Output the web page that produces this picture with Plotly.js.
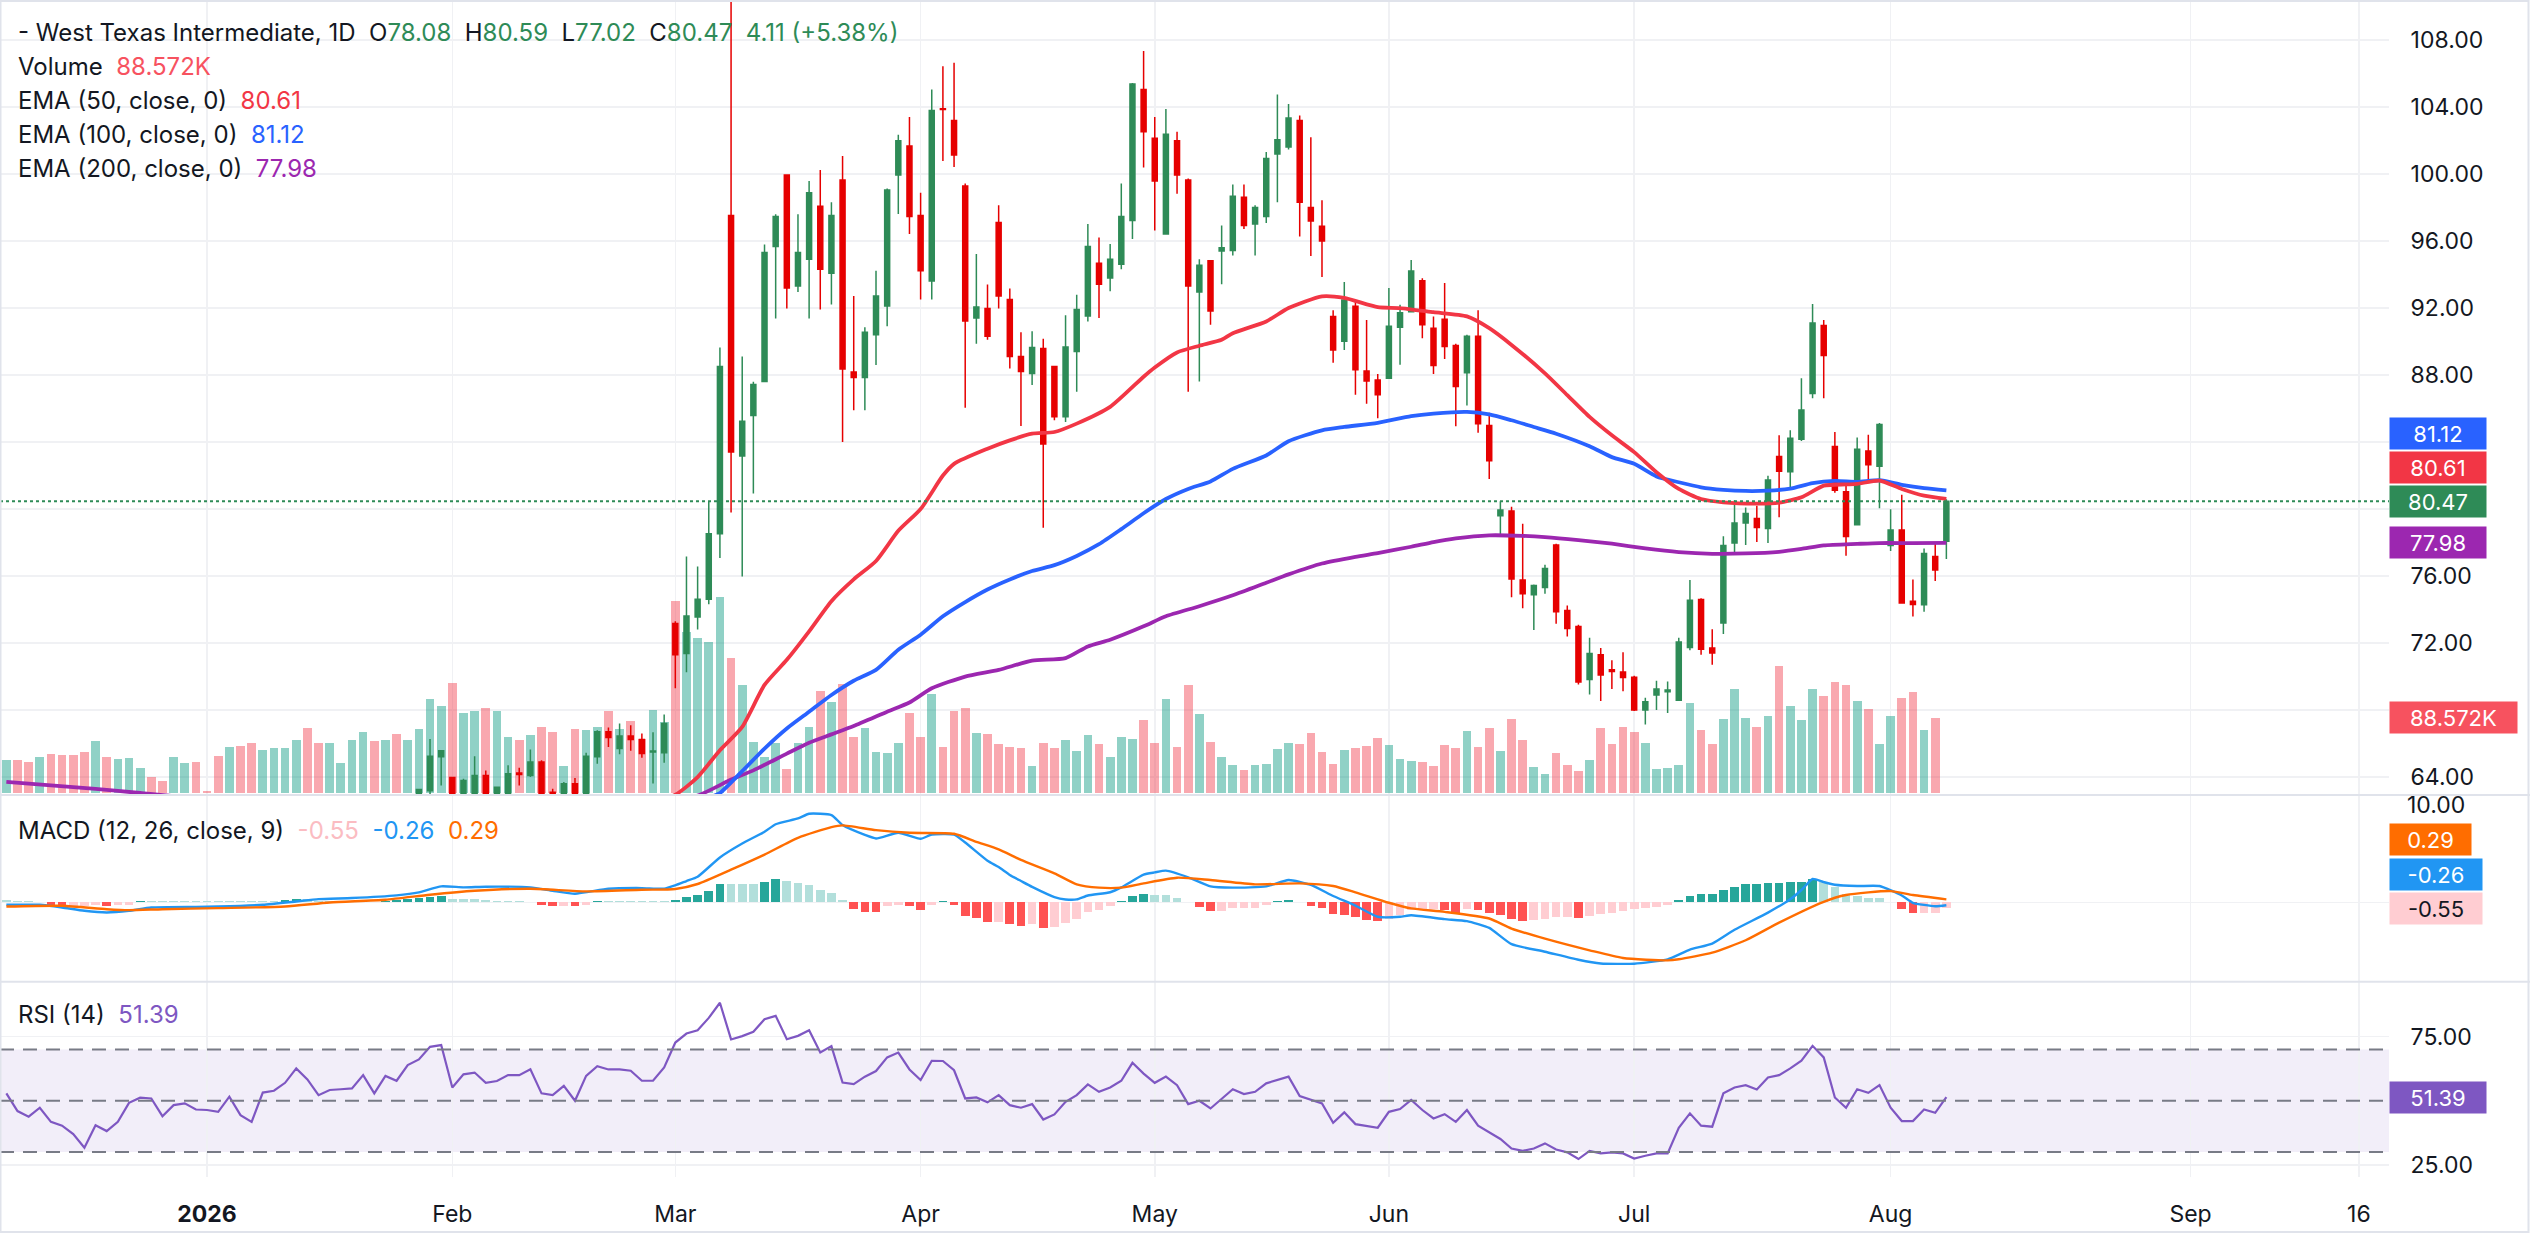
<!DOCTYPE html>
<html>
<head>
<meta charset="utf-8">
<script src="https://cdn.plot.ly/plotly-3.0.1.min.js"></script>
<style>html,body{margin:0;padding:0;background:#fff;}#chart{width:2530px;height:1253px;}</style>
</head>
<body>
<div id="chart"></div>
<script>
// ---------------- DATA (bar index 0 = first trading day of 2026) ----------------
const firstVolBar = -18;
const volume = [39.0,39.0,36.3,42.5,46.1,44.9,44.9,48.4,61.3,42.5,40.2,41.4,29.7,19.1,14.4,42.5,35.5,36.7,
  2.7,43.7,54.3,55.4,58.9,50.7,53.1,53.1,62.4,76.5,58.9,58.9,35.5,62.4,71.8,61.3,62.4,69.5,62.4,
  75.3,110.4,102.3,129.2,94.1,96.4,99.9,96.4,66.0,62.4,68.3,77.7,71.8,32.0,75.3,74.2,77.7,96.4,75.3,84.7,64,97.5,84,
  225,188.5,182,177,230,158,127,60,42.5,59.0,28.9,59.0,77.9,120,107,128,66.1,76.7,48.4,47.2,59.0,93.8,66.1,116,54.3,96.8,100,70.8,69,57.2,54.3,52.5,32.5,59,52.5,62,49.6,67.9,57.2,42.5,66.1,63.1,85.6,59,110,54.3,127,92.6,60.2,42.5,33.6,27.7,33.6,34.8,51.3,59,57.3,70.6,
  48.1,34.1,51.1,53.2,55.4,65.2,56.6,40.5,38.3,37.1,31.9,57.1,53.2,73.3,54.5,76.7,49.8,87.3,61.8,31.1,23.0,47.7,33.6,26.4,39.2,76.7,57.9,77.9,72.0,58.8,29.0,29.8,33.6,105.6,74.5,57.9,87.3,122.2,88.6,77.9,89.9,149.1,102.6,86.0,122.2,113.7,130.7,126.5,108.2,98.8,57.9,90.7,112.0,118.0,74.5,88.572];
// direction (1 up / -1 down) of bars whose candles sit below the visible price range (bars -18..18)
const earlyVolDir = [1,-1,-1,1,-1,-1,-1,-1,1,-1,1,1,1,-1,-1,1,1,-1,
  -1,-1,1,-1,-1,1,1,1,1,-1,-1,1,1,1,1,-1,1,-1,1];

const firstCandle = 19;
const open  = [63.03,63.18,65.21,63.98,62.9,63.0,64.1,62.9,62.9,64.25,64.1,64.9,63.1,62.9,63.6,62.9,65.21,66.7,65.71,66.45,66.25,65.5,65.45,
  73.17,71.37,73.56,74.62,78.53,97.53,83.16,85.59,87.61,95.67,99.94,93.32,94.92,98.08,94.08,99.64,88.18,87.85,90.4,92.12,99.94,101.68,97.53,93.62,103.9,103.19,99.28,91.40,91.97,
  97.11,92.51,89.11,88.09,89.59,88.51,85.51,89.41,91.52,94.68,93.8,94.62,97.23,105.05,102.14,96.42,101.98,99.64,92.96,94.83,95.4,95.43,98.62,97.02,97.47,101.2,101.62,103.19,98.0,
  96.88,91.5,90.02,92.1,88.24,87.7,87.81,90.85,91.78,93.63,90.8,91.33,89.76,88.13,90.31,84.99,79.6,79.88,75.76,74.89,75.32,77.86,73.95,72.99,69.83,71.3,70.4,70.28,69.96,68.0,68.9,69.1,68.59,71.74,74.6,71.7,
  73.2,77.97,79.17,79.43,78.84,83.14,82.23,84.16,86.9,90.96,83.73,81.03,79.06,83.47,82.55,77.82,78.75,74.5,74.28,77.17,78.08];
const high  = [63.3,66.27,65.6,64.0,63.9,65.25,64.4,63.4,64.7,64.56,65.65,65.0,63.3,63.7,63.95,65.45,66.8,66.96,67.2,67.1,66.6,66.67,67.74,
  73.3,77.17,76.57,80.48,89.65,111.5,89.11,87.6,95.8,97.6,99.94,97.6,99.58,100.24,98.32,101.08,92.72,90.86,94.22,99.13,102.35,103.4,98.89,105.05,106.44,106.65,99.43,95.22,93.41,
  98.14,93.17,90.56,90.62,90.16,88.51,91.57,92.8,97.02,96.21,95.82,99.43,105.44,107.34,103.4,103.88,102.53,99.73,94.92,94.83,96.93,99.37,99.37,98.14,101.32,104.75,104.18,103.49,102.2,
  98.44,91.87,93.56,92.48,91.28,88.07,93.19,92.2,94.87,93.78,91.5,93.5,89.87,90.41,91.87,85.75,80.47,80.14,79.12,75.5,76.67,77.93,74.24,73.09,72.32,71.7,70.98,71.45,70.05,68.74,69.75,69.7,72.32,75.76,74.67,72.82,
  78.37,80.53,80.1,80.2,81.99,84.4,84.7,87.81,92.24,91.28,84.6,81.56,84.27,84.44,85.14,79.99,80.86,75.8,77.65,77.93,80.59];
const low   = [62.5,62.6,63.5,62.4,62.5,62.7,62.6,62.5,62.6,63.5,64.0,62.5,62.5,62.6,62.6,62.7,64.8,65.8,65.37,65.57,65.15,63.62,64.86,
  69.3,70.26,72.81,74.32,77.08,79.79,75.97,80.93,87.6,91.37,91.97,92.96,91.37,91.91,92.21,84.0,85.9,85.9,88.6,90.92,97.62,96.42,92.51,92.51,100.78,100.42,86.05,89.87,90.1,
  91.97,88.39,84.96,87.4,78.89,85.3,85.2,87.0,91.2,91.4,93.0,94.32,96.12,100.39,96.63,96.42,98.83,87.0,87.61,91.0,93.42,95.13,96.72,95.13,97.08,98.32,101.47,96.27,95.1,
  93.86,88.74,89.5,86.83,86.29,85.42,87.81,88.61,91.78,90.2,88.07,88.96,84.94,86.18,84.55,81.79,78.51,74.74,74.08,72.78,74.95,73.15,72.39,69.52,68.93,68.54,69.26,69.13,67.94,67.14,68.0,67.83,68.59,71.57,71.3,70.7,
  72.54,77.43,77.86,78.04,77.97,79.51,81.19,84.07,86.61,86.61,80.97,77.21,79.06,81.77,80.05,77.49,74.35,73.58,73.87,75.71,77.02];
const close = [63.26,65.25,65.57,62.7,63.8,64.1,62.9,63.4,64.2,64.15,64.9,62.9,62.9,63.6,62.9,65.25,66.7,66.37,66.45,66.25,65.41,65.55,67.2,
  71.31,73.62,74.62,78.53,88.51,83.40,85.24,87.43,95.31,97.47,93.20,95.31,98.89,94.32,97.53,88.36,87.85,90.56,92.72,99.04,101.98,97.47,94.22,103.79,103.85,101.14,91.22,92.06,90.32,
  92.72,89.11,88.21,89.65,83.88,85.51,89.68,91.91,95.67,93.42,94.92,97.47,105.38,102.53,99.58,102.38,99.94,93.32,94.56,91.82,95.6,98.68,96.93,98.0,100.93,102.05,103.34,98.32,97.2,
  96.0,89.5,92.48,88.31,87.64,86.83,90.91,91.72,94.21,91.0,88.57,89.7,87.31,90.31,85.09,82.88,79.94,75.82,74.95,75.43,76.45,73.87,72.87,69.67,71.37,70.1,70.3,69.94,68.0,68.5,69.26,69.2,72.07,74.56,71.63,71.41,
  77.82,79.17,79.74,78.9,81.73,82.25,84.23,85.92,91.11,89.16,81.12,78.36,83.57,82.64,85.05,78.75,74.39,74.3,77.34,76.36,80.47];

const ema50X = [30,38,42,44,46,48,50,52,54,56,58,60,62,64,66,67,70,72,74,76,78,81,84,85,87,89,91,92,95,97,100,102,105,107,110,113,115,117,120,122,124,126,128,130,132,134,136,139,141,143,145,147,148,150,152,154,156];
const ema50Y = [61.4,62.2,62.95,64.0,65.6,67.0,69.5,71.0,72.7,74.5,75.8,76.9,78.7,80.0,82.0,82.7,83.6,84.1,84.5,84.6,85.1,86.1,87.9,88.45,89.35,89.75,90.1,90.5,91.2,92.0,92.7,92.6,92.05,92.0,91.75,91.5,90.8,89.8,88.1,86.8,85.5,84.4,83.4,82.2,81.2,80.6,80.4,80.32,80.38,80.7,81.4,81.47,81.5,81.7,81.2,80.8,80.61];
const ema100X = [35,45,46,48,50,52,54,56,58,60,62,64,66,68,70,72,74,76,78,80,82,84,86,88,90,92,95,97,100,102,105,108,110,113,115,117,119,121,124,126,128,130,132,134,136,138,140,142,144,146,148,150,152,154,156];
const ema100Y = [61.6,62.8,63.05,64.35,65.7,66.9,67.9,68.9,69.75,70.4,71.6,72.5,73.6,74.45,75.2,75.8,76.3,76.65,77.2,77.9,78.8,79.75,80.6,81.2,81.65,82.4,83.2,84.05,84.7,84.9,85.15,85.55,85.7,85.8,85.65,85.3,84.9,84.5,83.75,83.1,82.7,81.95,81.6,81.3,81.15,81.08,81.1,81.22,81.55,81.68,81.62,81.72,81.45,81.25,81.12];
const ema200X = [-18,-14,-10,-6,-2,10,25,38,44,47,49,52,54,56,58,61,63,65,68,71,74,77,79,81,84,86,89,92,95,97,100,103,105,108,110,112,115,118,120,123,126,129,132,135,138,141,143,145,148,150,153,156];
const ema200Y = [63.72,63.5,63.3,63.05,62.8,62.3,62.0,62.3,62.9,63.85,64.4,65.4,66.05,66.55,67.05,67.9,68.45,69.3,70.0,70.4,70.95,71.1,71.8,72.2,73.0,73.6,74.2,74.85,75.6,76.1,76.75,77.15,77.37,77.75,78.03,78.25,78.43,78.4,78.33,78.15,77.93,77.65,77.43,77.33,77.35,77.45,77.62,77.83,77.92,77.97,77.97,77.98];

const macdX = [-18,-15,-13,-11,-9,-7,-5,-1,1,5,8,10,13,17,19,21,23,25,29,31,33,36,39,41,42,43,44,46,48,50,51,53,54,56,57,59,60,62,64,65,67,68,70,71,72,73,74,76,77,78,79,81,82,84,85,86,88,90,92,95,97,99,101,103,105,107,108,111,113,115,117,120,123,125,128,131,133,135,137,140,142,143,144,145,146,148,150,152,153,155,156];
const macdY = [-0.22,-0.22,-0.47,-0.78,-0.94,-0.78,-0.47,-0.41,-0.38,-0.22,0.09,0.31,0.41,0.66,0.94,1.5,1.41,1.47,1.41,1.09,0.81,1.28,1.34,1.28,1.6,2.0,2.4,4.2,5.5,6.6,7.3,7.84,8.28,8.16,7.22,6.3,5.97,6.5,5.94,6.34,6.34,5.6,3.9,3.3,2.56,2.0,1.45,0.5,0.28,0.28,0.65,0.95,1.4,2.6,2.8,2.97,2.35,1.5,1.38,1.5,2.09,1.63,0.6,-0.3,-1.34,-1.34,-1.19,-1.56,-1.75,-2.38,-3.9,-4.6,-5.35,-5.7,-5.72,-5.31,-4.4,-3.84,-2.55,-0.95,0.3,1.16,2.19,1.9,1.65,1.53,1.53,0.65,-0.03,-0.35,-0.26];
const signalX = [-18,-13,-9,-7,-4,1,7,11,16,20,24,29,34,39,42,44,47,50,53,56,57,60,63,67,69,71,73,76,78,80,82,84,87,90,94,98,101,103,106,108,111,115,117,120,124,127,131,132,135,138,141,145,147,151,153,156];
const signalY = [-0.38,-0.31,-0.63,-0.72,-0.63,-0.53,-0.38,0.0,0.25,0.72,1.09,1.28,1.03,1.19,1.25,1.72,3.06,4.47,6.03,7.03,7.19,6.75,6.5,6.41,5.66,4.95,3.97,2.72,1.69,1.38,1.38,1.78,2.31,2.09,1.69,1.78,1.53,0.94,-0.03,-0.56,-0.88,-1.5,-2.44,-3.38,-4.47,-5.19,-5.41,-5.31,-4.69,-3.53,-1.88,0.06,0.69,1.06,0.69,0.29];
const macdHist = [0.2,0.1,0.1,0.05,-0.25,-0.3,-0.3,-0.3,-0.25,-0.35,-0.25,-0.2,0.1,0.1,0.1,0.1,0.1,0.1,0.1,0.1,0.1,0.1,0.1,0.1,0.1,0.2,0.3,0.3,0.15,0.1,0.05,0.1,0.2,0.05,0.15,0.2,0.3,0.4,0.5,0.6,0.35,0.3,0.3,0.2,0.15,0.1,0.1,
  0.05,-0.25,-0.3,-0.3,-0.35,-0.25,0.1,0.1,0.1,0.1,0.1,0.1,0.1,0.2,0.5,0.7,1.1,1.7,1.7,1.7,1.7,1.9,2.2,2.0,1.8,1.6,1.2,0.9,0.2,-0.6,-0.85,-0.9,-0.3,-0.2,-0.3,-0.7,-0.25,0.1,-0.2,-1.3,-1.45,-1.8,
  -1.8,-2.0,-2.2,-2.05,-2.4,-2.3,-1.9,-1.5,-0.9,-0.7,-0.35,0.15,0.6,0.75,0.7,0.7,0.45,0.05,-0.4,-0.8,-0.8,-0.55,-0.5,-0.5,-0.25,0.1,0.25,0.05,-0.3,-0.55,
  -1.1,-1.2,-1.4,-1.65,-1.7,-1.5,-1.2,-0.7,-0.7,-0.6,-0.7,-0.95,-0.6,-0.7,-1.0,-1.2,-1.55,-1.75,-1.65,-1.5,-1.4,-1.4,-1.45,-1.25,-1.1,-0.95,-0.8,-0.65,-0.5,-0.4,
  -0.2,0.2,0.6,0.75,0.78,1.15,1.45,1.7,1.72,1.78,1.85,1.88,1.9,2.2,1.95,1.45,0.78,0.6,0.38,0.38,0.06,-0.6,-0.95,-0.95,-0.95,-0.55];
const rsi = [52.9,46.0,43.8,47.3,41.8,40.3,37.0,31.7,40.5,38.2,41.8,49.2,51.2,50.9,44.0,48.3,49.0,46.6,
  46.4,45.7,51.6,44.4,41.8,53.2,53.9,57.0,62.6,58.3,52.2,54.2,54.5,54.8,60.0,52.9,59.7,57.8,63.9,
  66.1,71.0,71.7,55.2,60.3,61.0,57.0,57.7,60.0,60.0,62.3,52.9,52.2,55.8,50.0,59.7,63.5,62.2,62.2,61.7,57.8,57.8,63.0,
  72.7,76.2,77.5,82.3,88.2,73.9,75.2,76.9,81.8,83.1,74.0,75.3,77.5,68.8,71.3,57.1,56.5,59.4,61.6,66.9,68.8,62.2,58.1,65.6,65.5,61.9,50.9,51.3,49.4,52.2,
  48.3,47.3,48.7,42.7,44.7,49.6,52.2,56.4,53.5,55.2,57.8,64.8,60.6,57.0,59.4,56.1,48.7,50.0,47.0,50.6,54.5,52.6,53.5,56.8,58.1,59.4,51.8,50.5,49.0,41.4,
  45.5,40.9,40.3,39.5,45.7,46.8,50.3,46.4,43.1,44.8,41.8,46.4,40.3,37.7,35.1,31.4,30.5,31.4,33.4,31.0,29.9,27.3,30.5,29.5,29.9,29.5,27.5,28.6,29.5,29.5,
  39.5,45.1,40.3,39.9,52.9,55.2,56.1,54.4,59.1,60.0,62.6,65.6,71.4,66.9,51.3,47.3,54.5,53.1,56.1,47.3,42.1,42.1,46.6,45.3,51.39];

const monthTickPos  = [0, 22, 42, 64, 85, 106, 128, 151, 177.9, 193];
const monthTickText = ['<b>2026</b>', 'Feb', 'Mar', 'Apr', 'May', 'Jun', 'Jul', 'Aug', 'Sep', '16'];
const priceTicks = [64, 68, 72, 76, 80, 84, 88, 92, 96, 100, 104, 108];
const priceTicksUnderTags = [68, 80, 84];   // labels hidden behind the value tags in the reference
const macdTopTick = 10;

// ---------------- LAYOUT GEOMETRY ----------------
const W = 2530, H = 1253, ML = 0, MR = 141, MT = 2, MB = 76;
const PW = W - ML - MR, PH = H - MT - MB;
const px = v => (v - ML) / PW;
const py = v => (H - MB - v) / PH;
const mainBottom = 795, macdBottom = 981.7;

const GREEN = '#2e8b57', RED = '#e60000';
const FONT = 'Inter, Roboto, "Noto Sans", sans-serif';
const TXT = '#131722';

const volX = volume.map((_, k) => firstVolBar + k);
const cX = close.map((_, k) => firstCandle + k);
const allX = rsi.map((_, k) => firstVolBar + k);

const volColors = volume.map((v, k) => {
  const i = firstVolBar + k;
  let up;
  if (i < firstCandle) up = earlyVolDir[k] > 0;
  else { const j = i - firstCandle; up = close[j] >= open[j]; }
  return up ? 'rgba(8,153,129,0.45)' : 'rgba(242,54,69,0.43)';
});
const histColors = macdHist.map((h, k) => {
  const p = k > 0 ? macdHist[k - 1] : h;
  if (h >= 0) return h > p ? '#26a69a' : '#b2dfdb';
  return h < p ? '#ff5252' : '#ffcdd2';
});

const traces = [
  {type: 'bar', x: volX, y: volume, xaxis: 'x', yaxis: 'y', marker: {color: volColors, line: {width: 0}}, width: 0.78},
  {type: 'candlestick', x: cX, open: open, high: high, low: low, close: close, xaxis: 'x', yaxis: 'y2',
   increasing: {line: {color: GREEN, width: 1.5}, fillcolor: GREEN},
   decreasing: {line: {color: RED, width: 1.5}, fillcolor: RED}, whiskerwidth: 0},
  {type: 'scatter', mode: 'lines', x: ema200X, y: ema200Y, xaxis: 'x', yaxis: 'y2', line: {color: '#9c27b0', width: 3.8, shape: 'spline', smoothing: 0.6}},
  {type: 'scatter', mode: 'lines', x: ema100X, y: ema100Y, xaxis: 'x', yaxis: 'y2', line: {color: '#2962ff', width: 3.8, shape: 'spline', smoothing: 0.6}},
  {type: 'scatter', mode: 'lines', x: ema50X, y: ema50Y, xaxis: 'x', yaxis: 'y2', line: {color: '#f23645', width: 3.8, shape: 'spline', smoothing: 0.6}},
  {type: 'bar', x: allX, y: macdHist, xaxis: 'x', yaxis: 'y3', marker: {color: histColors, line: {width: 0}}, width: 0.78},
  {type: 'scatter', mode: 'lines', x: macdX, y: macdY, xaxis: 'x', yaxis: 'y3', line: {color: '#2196f3', width: 2.4, shape: 'spline', smoothing: 0.5}},
  {type: 'scatter', mode: 'lines', x: signalX, y: signalY, xaxis: 'x', yaxis: 'y3', line: {color: '#ff6d00', width: 2.4, shape: 'spline', smoothing: 0.6}},
  {type: 'scatter', mode: 'lines', x: allX, y: rsi, xaxis: 'x', yaxis: 'y4', line: {color: '#7e57c2', width: 2.2}}
];

const last = close.length - 1;
const lastO = open[last], lastH = high[last], lastL = low[last], lastC = close[last];
const chg = lastC - close[last - 1];
const pct = chg / close[last - 1] * 100;
const nb = '\u00a0';
const g = s => `<span style="color:${GREEN}">${s}</span>`;
const headerText = `-${nb}West Texas Intermediate, 1D${nb}${nb}O${g(lastO.toFixed(2))}${nb}${nb}H${g(lastH.toFixed(2))}${nb}${nb}L${g(lastL.toFixed(2))}${nb}${nb}C${g(lastC.toFixed(2))}${nb}${nb}${g((chg >= 0 ? '' : '-') + Math.abs(chg).toFixed(2) + ' (' + (pct >= 0 ? '+' : '') + pct.toFixed(2) + '%)')}`;
const volLast = volume[volume.length - 1];
const e50 = ema50Y[ema50Y.length - 1], e100 = ema100Y[ema100Y.length - 1], e200 = ema200Y[ema200Y.length - 1];
const mLast = macdY[macdY.length - 1], sLast = signalY[signalY.length - 1], hLast = macdHist[macdHist.length - 1];
const rLast = rsi[rsi.length - 1];

function legend(text, ypx) {
  return {xref: 'paper', yref: 'paper', x: px(16), y: py(ypx), xanchor: 'left', yanchor: 'middle', text: text,
    showarrow: false, font: {family: FONT, size: 24, color: TXT}, align: 'left'};
}
function tag(text, ypx, bg, w, fg, yref, yval) {
  return {xref: 'paper', yref: yref || 'paper', x: px(2389), y: yref ? yval : py(ypx), xanchor: 'left', yanchor: 'middle',
    text: text, showarrow: false, bgcolor: bg, width: w, height: 29, borderpad: 1, align: 'center',
    font: {family: FONT, size: 22, color: fg || '#ffffff'}};
}
const annotations = [
  legend(headerText, 33),
  legend(`Volume${nb}${nb}<span style="color:#f7525f">${volLast.toFixed(3)}K</span>`, 67),
  legend(`EMA (50, close, 0)${nb}${nb}<span style="color:#f23645">${e50.toFixed(2)}</span>`, 101),
  legend(`EMA (100, close, 0)${nb}${nb}<span style="color:#2962ff">${e100.toFixed(2)}</span>`, 135),
  legend(`EMA (200, close, 0)${nb}${nb}<span style="color:#9c27b0">${e200.toFixed(2)}</span>`, 168),
  legend(`MACD (12, 26, close, 9)${nb}${nb}<span style="color:#fbbcc2">${hLast.toFixed(2)}</span>${nb}${nb}<span style="color:#2196f3">${mLast.toFixed(2)}</span>${nb}${nb}<span style="color:#ff6d00">${sLast.toFixed(2)}</span>`, 830),
  legend(`RSI (14)${nb}${nb}<span style="color:#7e57c2">${rLast.toFixed(2)}</span>`, 1015),
  {xref: 'paper', yref: 'paper', x: px(2405), y: py(805), xanchor: 'left', yanchor: 'middle', showarrow: false,
   text: macdTopTick.toFixed(2), font: {family: FONT, size: 23, color: TXT}},
  tag(e100.toFixed(2), 433, '#2962ff', 94),
  tag(e50.toFixed(2), 467, '#f23645', 94),
  tag(lastC.toFixed(2), 0, GREEN, 94, '#fff', 'y2', lastC),
  tag(e200.toFixed(2), 0, '#9c27b0', 94, '#fff', 'y2', e200),
  tag(volLast.toFixed(3) + 'K', 717.5, '#f7525f', 125),
  tag(sLast.toFixed(2), 839, '#ff6d00', 79),
  tag(mLast.toFixed(2), 874, '#2196f3', 90),
  tag(hLast.toFixed(2), 908.5, '#ffcdd2', 90, TXT),
  tag(rLast.toFixed(2), 0, '#7e57c2', 94, '#fff', 'y4', rLast)
];

const SEP = '#e0e3eb';
const shapes = [
  {type: 'rect', xref: 'paper', yref: 'y4', x0: 0, x1: 1, y0: 30, y1: 70, fillcolor: 'rgba(126,87,194,0.1)', line: {width: 0}, layer: 'below'},
  {type: 'line', xref: 'paper', yref: 'y4', x0: 0, x1: 1, y0: 70, y1: 70, line: {color: '#787b86', width: 2, dash: '14px,9px'}},
  {type: 'line', xref: 'paper', yref: 'y4', x0: 0, x1: 1, y0: 50, y1: 50, line: {color: '#787b86', width: 2, dash: '14px,9px'}},
  {type: 'line', xref: 'paper', yref: 'y4', x0: 0, x1: 1, y0: 30, y1: 30, line: {color: '#787b86', width: 2, dash: '14px,9px'}},
  {type: 'line', xref: 'paper', yref: 'y2', x0: 0, x1: 1, y0: lastC, y1: lastC, line: {color: GREEN, width: 2, dash: 'dot'}},
  {type: 'line', xref: 'paper', yref: 'paper', x0: 0, x1: px(W), y0: py(mainBottom), y1: py(mainBottom), line: {color: SEP, width: 2}},
  {type: 'line', xref: 'paper', yref: 'paper', x0: 0, x1: px(W), y0: py(macdBottom), y1: py(macdBottom), line: {color: SEP, width: 2}},
  {type: 'rect', xref: 'paper', yref: 'paper', x0: px(0.5), x1: px(W - 1.5), y0: py(1232), y1: py(1), line: {color: SEP, width: 2}, fillcolor: 'rgba(0,0,0,0)'}
];

const GRID = '#f0f1f4';
const yTick = {family: FONT, size: 23, color: TXT};
const layout = {
  width: W, height: H, margin: {l: ML, r: MR, t: MT, b: MB, pad: 0},
  paper_bgcolor: '#ffffff', plot_bgcolor: '#ffffff', showlegend: false, hovermode: false, dragmode: false,
  boxgap: 0.36, bargap: 0,
  xaxis: {type: 'linear', range: [-18.57, 195.7], anchor: 'y4', tickvals: monthTickPos, ticktext: monthTickText,
    showgrid: true, gridcolor: GRID, gridwidth: 1.5, zeroline: false, showline: false,
    ticks: 'outside', ticklen: 16, tickcolor: 'rgba(0,0,0,0)', tickfont: {family: FONT, size: 23, color: TXT},
    rangeslider: {visible: false}, fixedrange: true},
  yaxis: {domain: [py(mainBottom), 1], range: [-2, 926], visible: false, showgrid: false, zeroline: false, fixedrange: true},
  yaxis2: {overlaying: 'y', side: 'right', anchor: 'x', range: [62.93, 110.27], tickvals: priceTicks,
    ticktext: priceTicks.map(v => priceTicksUnderTags.includes(v) ? '' : v.toFixed(2)),
    showgrid: true, gridcolor: GRID, gridwidth: 1.5, zeroline: false, showline: false,
    ticks: 'outside', ticklen: 16, tickcolor: 'rgba(0,0,0,0)', tickfont: yTick, fixedrange: true},
  yaxis3: {domain: [py(macdBottom), py(mainBottom)], anchor: 'x', side: 'right', range: [-7.40, 10.03], tickvals: [macdTopTick], ticktext: [''],
    showgrid: false, zeroline: true, zerolinecolor: GRID, zerolinewidth: 1.5, showline: false,
    ticks: '', tickfont: yTick, fixedrange: true},
  yaxis4: {domain: [0, py(macdBottom)], anchor: 'x', side: 'right', range: [20.3, 96.4], tickvals: [25, 75], tickformat: '.2f',
    showgrid: true, gridcolor: GRID, gridwidth: 1.5, zeroline: false, showline: false,
    ticks: 'outside', ticklen: 16, tickcolor: 'rgba(0,0,0,0)', tickfont: yTick, fixedrange: true},
  annotations: annotations,
  shapes: shapes
};

Plotly.newPlot('chart', traces, layout, {staticPlot: true, displayModeBar: false});
</script>
</body>
</html>
